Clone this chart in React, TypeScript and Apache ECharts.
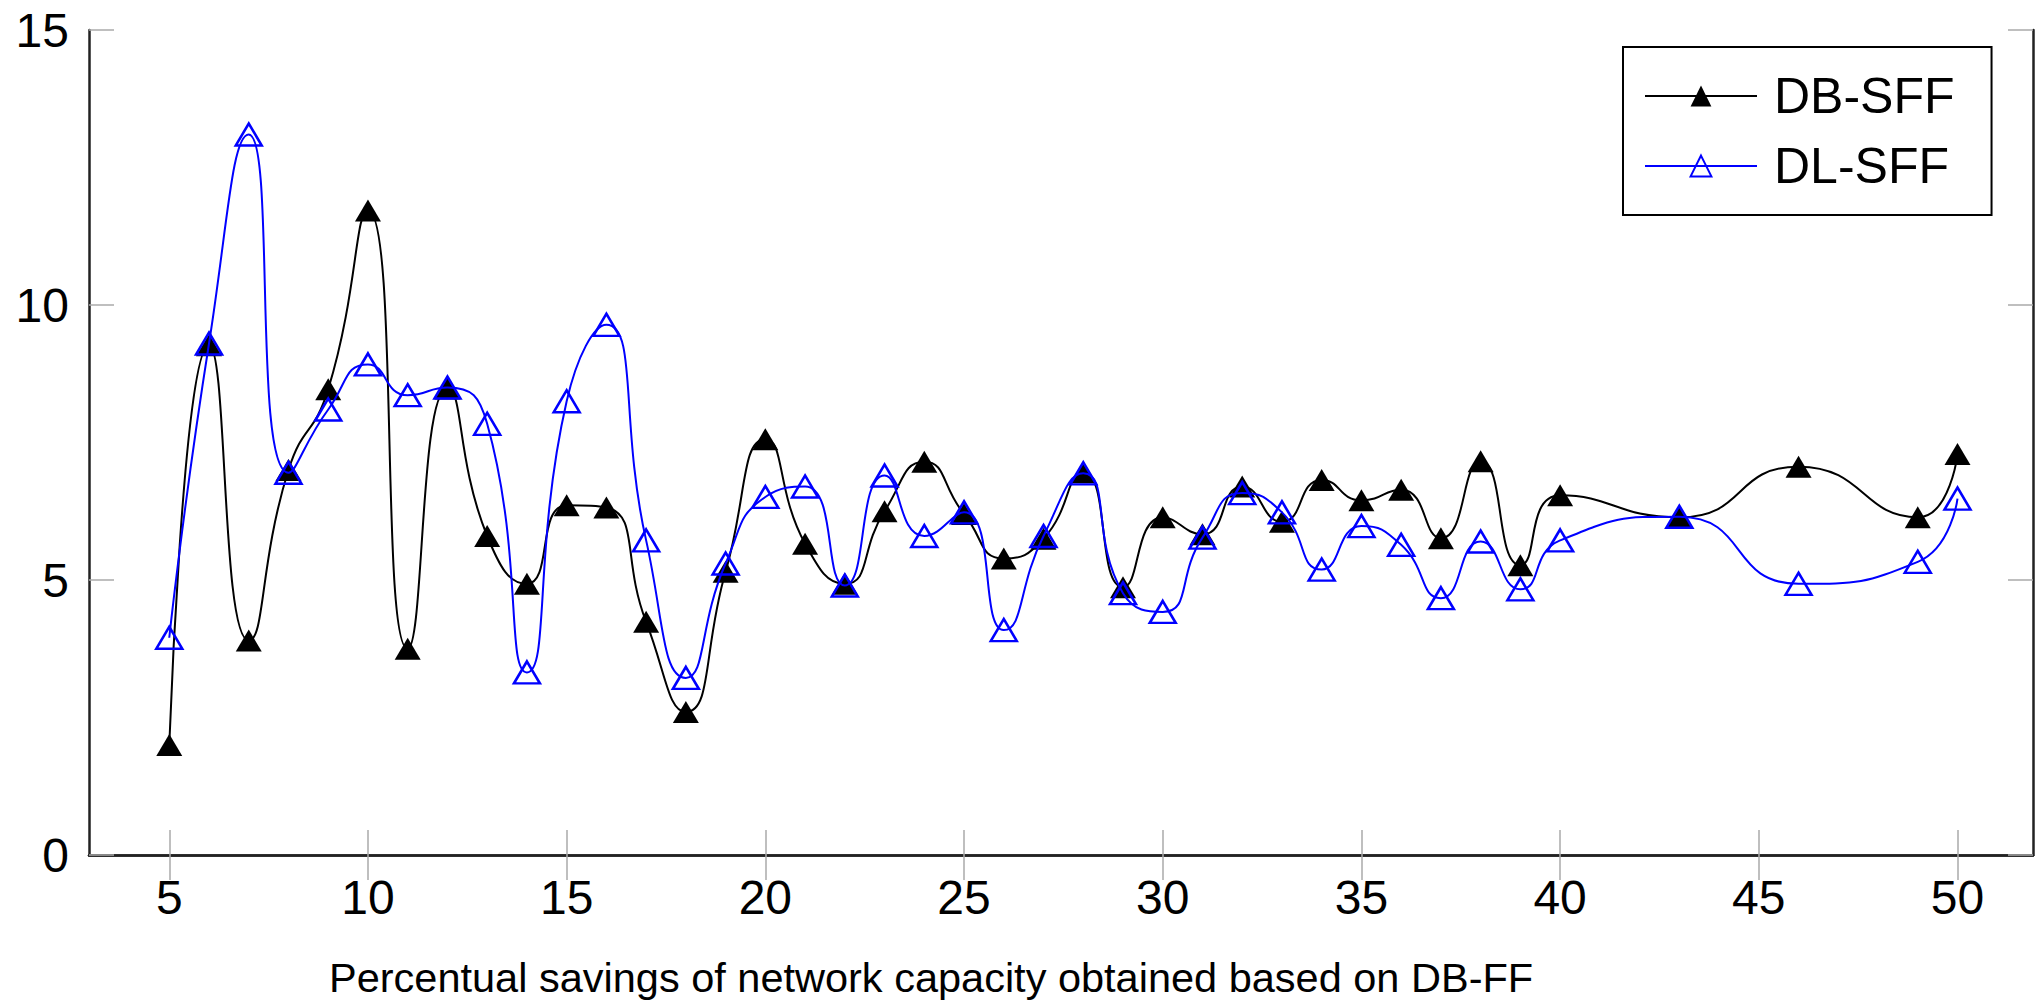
import React, { useEffect, useRef } from "react";
import * as echarts from "echarts";

const xValues = [5, 6, 7, 8, 9, 10, 11, 12, 13, 14, 15, 16, 17, 18, 19, 20, 21, 22, 23, 24, 25, 26, 27, 28, 29, 30, 31, 32, 33, 34, 35, 36, 37, 38, 39, 40, 43, 46, 49, 50];
const dbSff = [2.0, 9.27, 3.9, 7.0, 8.47, 11.72, 3.75, 8.48, 5.8, 4.93, 6.36, 6.32, 4.24, 2.6, 5.15, 7.56, 5.66, 4.93, 6.25, 7.15, 6.2, 5.39, 5.75, 6.96, 4.87, 6.14, 5.83, 6.7, 6.06, 6.82, 6.45, 6.64, 5.76, 7.16, 5.27, 6.54, 6.14, 7.06, 6.14, 7.29];
const dlSff = [3.95, 9.3, 13.1, 6.95, 8.1, 8.92, 8.36, 8.5, 7.84, 3.32, 8.25, 9.64, 5.72, 3.22, 5.3, 6.51, 6.7, 4.9, 6.9, 5.8, 6.23, 4.09, 5.8, 6.94, 4.76, 4.42, 5.77, 6.58, 6.23, 5.19, 5.98, 5.64, 4.67, 5.7, 4.83, 5.72, 6.15, 4.93, 5.33, 6.48];
const xTicks = [5, 10, 15, 20, 25, 30, 35, 40, 45, 50];
const seriesNames = ["DB-SFF", "DL-SFF"];
const xTitle = "Percentual savings of network capacity obtained based on DB-FF";

const FONT = "'Liberation Sans', Arial, sans-serif";

export default function App() {
  const ref = useRef<HTMLDivElement>(null);
  useEffect(() => {
    document.body.style.margin = "0";
    const chart = echarts.init(ref.current!, null, { renderer: "svg" });
    const tickStyle = { show: true, inside: true, length: 25, lineStyle: { color: "#aaaaaa", width: 1.5 } };
    const axisLineStyle = { show: true, lineStyle: { color: "#222222", width: 2.5 } };
    const xBase = { type: "value", min: 2.98, max: 51.9, splitLine: { show: false }, axisLine: axisLineStyle };
    const yBase = { type: "value", min: 0, max: 15, interval: 5, splitLine: { show: false }, axisLine: axisLineStyle };
    chart.setOption({
      animation: false,
      backgroundColor: "#ffffff",
      grid: { left: 89, top: 30, width: 1944, height: 825, containLabel: false },
      xAxis: [
        {
          ...xBase,
          position: "bottom",
          axisTick: { ...tickStyle, customValues: xTicks },
          axisLabel: { customValues: xTicks, fontSize: 48, fontFamily: FONT, color: "#000", margin: 18 },
        },
        {
          ...xBase,
          position: "top",
          axisTick: { ...tickStyle, customValues: xTicks },
          axisLabel: { show: false },
        },
      ],
      yAxis: [
        {
          ...yBase,
          position: "left",
          axisTick: tickStyle,
          axisLabel: { fontSize: 48, fontFamily: FONT, color: "#000", margin: 20 },
        },
        {
          ...yBase,
          position: "right",
          axisTick: tickStyle,
          axisLabel: { show: false },
        },
      ],
      legend: {
        orient: "vertical",
        left: 1623,
        top: 47,
        backgroundColor: "#ffffff",
        borderColor: "#000000",
        borderWidth: 2,
        borderRadius: 0,
        padding: [24, 37, 24, 21],
        itemWidth: 112,
        itemHeight: 26,
        itemGap: 20,
        textStyle: { fontSize: 50, fontFamily: FONT, color: "#000", padding: [0, 0, 0, 12], lineHeight: 50 },
        data: seriesNames,
        z: 10,
      },
      series: [
        {
          name: seriesNames[0],
          type: "line",
          smooth: 0.55,
          data: xValues.map((x, i) => [x, dbSff[i]]),
          symbol: "triangle",
          symbolSize: [26, 22],
          lineStyle: { color: "#000000", width: 2 },
          itemStyle: { color: "#000000" },
          z: 2,
        },
        {
          name: seriesNames[1],
          type: "line",
          smooth: 0.55,
          data: xValues.map((x, i) => [x, dlSff[i]]),
          symbol: "triangle",
          symbolSize: [26, 22],
          lineStyle: { color: "#0000ff", width: 2 },
          itemStyle: { color: "rgba(255,255,255,0)", borderColor: "#0000ff", borderWidth: 2.5 },
          z: 3,
        },
      ],
      graphic: [
        {
          type: "text",
          left: 329,
          top: 956,
          style: { text: xTitle, fontSize: 41.5, fontFamily: "'Liberation Sans', Arial, sans-serif", fill: "#000" },
        },
      ],
    });
    return () => chart.dispose();
  }, []);
  return <div ref={ref} style={{ position: "absolute", left: 0, top: 0, width: 2037, height: 1000 }} />;
}
